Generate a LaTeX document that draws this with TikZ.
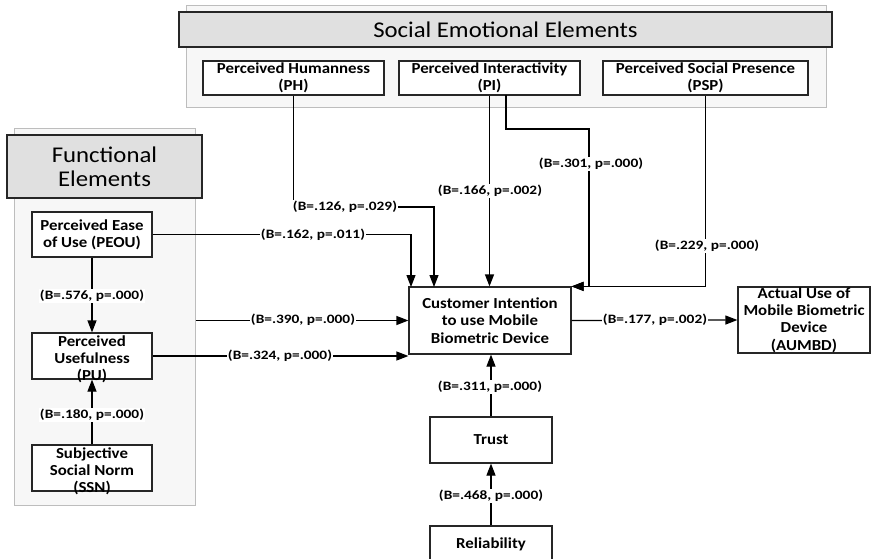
\documentclass[tikz,border=0pt]{standalone}
\usepackage{fontspec}
\setmainfont[FakeStretch=1.1]{Carlito}
\newfontfamily\lblfont[FakeStretch=1.2]{Carlito}
\usetikzlibrary{arrows.meta}
\definecolor{panelfill}{HTML}{F7F7F7}
\definecolor{panelline}{HTML}{BDBDBD}
\definecolor{headfill}{HTML}{E0E0E0}
\definecolor{boxline}{HTML}{262626}
\newcommand{\lowstrut}{\rule{0pt}{17pt}}
\tikzset{
  panel/.style={draw=panelline, fill=panelfill, line width=1pt, inner sep=0pt},
  header/.style={draw=boxline, fill=headfill, line width=1.2pt, inner sep=0pt, align=center, font=\fontsize{22.5}{24}\selectfont},
  cbox/.style={draw=boxline, fill=white, line width=1.2pt, inner sep=0pt, align=center, font=\fontsize{15.3}{17.3}\selectfont\bfseries},
  tightbox/.style={cbox, inner ysep=-6pt},
  lbl/.style={fill=white, inner sep=1pt, font=\lblfont\fontsize{12.8}{14}\selectfont\bfseries},
  conn/.style={draw=black, line width=1.2pt, -{Triangle[length=12pt,width=9pt]}},
}
\begin{document}
\begin{tikzpicture}[x=1pt,y=-1pt]
\useasboundingbox (0,0) rectangle (873,559);
\clip (0,0) rectangle (873,559);
\fill[white] (0,0) rectangle (873,559);
% panels
\node[panel, minimum width=640pt, minimum height=102pt] (spanel) at (506,57) {};
\node[panel, minimum width=181pt, minimum height=376pt] (fpanel) at (104.5,317) {};
\node[header, minimum width=653pt, minimum height=35pt] (shead) at (505.5,29.5) {Social Emotional Elements};
\node[header, minimum width=195pt, minimum height=63pt] (fhead) at (104.5,166.5) {Functional\\Elements};
% construct boxes
\node[cbox, minimum width=181pt, minimum height=34pt] (PH) at (293.5,78) {Perceived Humanness\\(PH)};
\node[cbox, minimum width=181pt, minimum height=34pt] (PI) at (489.5,78) {Perceived Interactivity\\(PI)};
\node[cbox, minimum width=205pt, minimum height=34pt] (PSP) at (705.5,78) {Perceived Social Presence\\(PSP)};
\node[cbox, minimum width=120pt, minimum height=45pt] (PEOU) at (92,234.5) {Perceived Ease\\of Use (PEOU)};
\node[tightbox, minimum width=120pt, minimum height=46pt] (PU) at (92,356) {\lowstrut Perceived\\Usefulness\\(PU)};
\node[tightbox, minimum width=120pt, minimum height=46pt] (SSN) at (92,468) {\lowstrut Subjective\\Social Norm\\(SSN)};
\node[cbox, minimum width=162pt, minimum height=67pt] (CI) at (490,320.5) {Customer Intention\\to use Mobile\\Biometric Device};
\node[cbox, inner ysep=-2pt, minimum width=132pt, minimum height=66pt] (AU) at (804,320) {Actual Use of\\Mobile Biometric\\Device\\(AUMBD)};
\node[cbox, minimum width=122pt, minimum height=46pt] (Trust) at (491,440) {Trust};
\node[cbox, minimum width=122pt, minimum height=36pt] (Rel) at (491,544) {Reliability};
% helper coordinates
\coordinate (inPEOU) at (411,287);
\coordinate (inPH) at (434,287);
\coordinate (piout) at (506,95);
% connectors
\draw[conn] (PEOU.east) -| (inPEOU);
\draw[conn] (PH.south) |- (434,207) -- (inPH);
\draw[conn] (PI.south) -- (PI.south |- CI.north);
\draw[conn] (piout) |- (589,129) |- (CI.north east);
\draw[conn] (PSP.south) |- (CI.north east);
\draw[conn] (PEOU.south) -- (PU.north);
\draw[conn] (SSN.north) -- (PU.south);
\draw[conn] (fpanel.east |- CI.west) -- (CI.west);
\draw[conn] (PU.east) -- (PU.east -| CI.west);
\draw[conn] (CI.east) -- (AU.west);
\draw[conn] (Trust.north) -- (Trust.north |- CI.south);
\draw[conn] (Rel.north) -- (Trust.south);
% labels
\node[lbl] (l1) at (313,235) {(B=.162, p=.011)};
\node[lbl] (l2) at (345,207) {(B=.126, p=.029)};
\node[lbl] (l3) at (490,191) {(B=.166, p=.002)};
\node[lbl] (l4) at (591,164) {(B=.301, p=.000)};
\node[lbl] (l5) at (707,246) {(B=.229, p=.000)};
\node[lbl] (l6) at (92,296) {(B=.576, p=.000)};
\node[lbl] (l7) at (92,415) {(B=.180, p=.000)};
\node[lbl] (l8) at (303,320) {(B=.390, p=.000)};
\node[lbl] (l9) at (280,356) {(B=.324, p=.000)};
\node[lbl] (l10) at (655,320) {(B=.177, p=.002)};
\node[lbl] (l11) at (490,387) {(B=.311, p=.000)};
\node[lbl] (l12) at (491,496) {(B=.468, p=.000)};
\end{tikzpicture}
\end{document}
